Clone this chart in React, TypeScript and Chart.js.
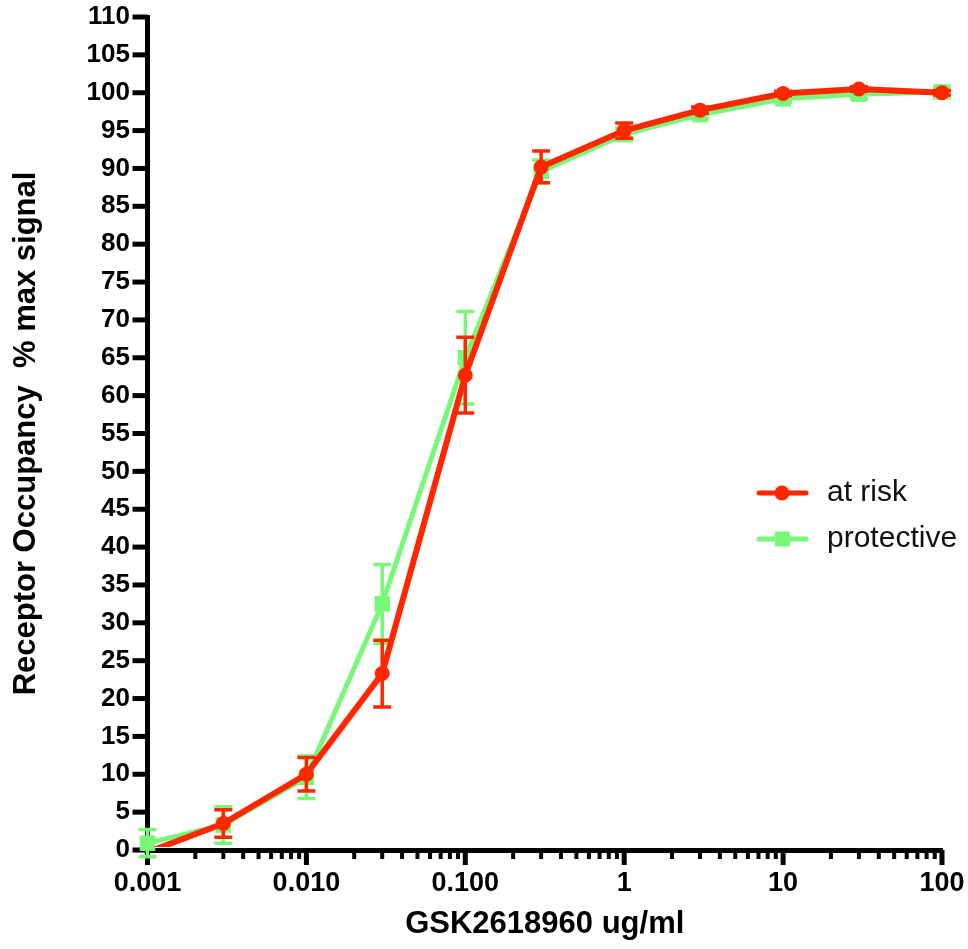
import React, { useEffect, useRef } from "react";
import { Chart, registerables } from "chart.js";

Chart.register(...registerables);

const X_VALUES = [0.001, 0.003, 0.01, 0.03, 0.1, 0.3, 1, 3, 10, 30, 100];
const AT_RISK = [-0.3, 3.5, 10.0, 23.3, 62.7, 90.2, 95.0, 97.7, 99.9, 100.5, 100.0];
const AT_RISK_ERR = [0, 1.8, 2.2, 4.4, 5.0, 2.1, 1.0, 0.4, 0.3, 0.3, 0.3];
const PROTECTIVE = [0.9, 3.3, 9.6, 32.5, 65.0, 89.6, 94.5, 97.1, 99.2, 99.8, 100.1];
const PROTECTIVE_ERR = [1.8, 2.4, 2.8, 5.2, 6.1, 1.5, 0.8, 0.5, 0.5, 0.6, 0.7];

const X_TICKS = [0.001, 0.01, 0.1, 1, 10, 100];
const X_TICK_LABELS = ["0.001", "0.010", "0.100", "1", "10", "100"];
const SERIES_LABELS = ["at risk", "protective"];
const ERRORS = [AT_RISK_ERR, PROTECTIVE_ERR];

const RED = "#FF2600";
const GREEN = "#78F778";
const FONT = "'Liberation Sans', Arial, sans-serif";

const tickPlugin = {
  id: "customTicks",
  beforeDatasetsDraw(chart: any) {
    const { ctx, scales } = chart;
    const xs = scales.x;
    const ys = scales.y;
    const area = chart.chartArea;
    ctx.save();
    ctx.strokeStyle = "#000";
    ctx.lineWidth = 5;
    for (let v = 0; v <= 110; v += 5) {
      const py = ys.getPixelForValue(v);
      ctx.beginPath();
      ctx.moveTo(area.left - 15, py);
      ctx.lineTo(area.left, py);
      ctx.stroke();
    }
    for (let e = -3; e <= 2; e++) {
      for (let m = 1; m <= 9; m++) {
        const v = m * Math.pow(10, e);
        if (v > 100.0001) continue;
        const px = xs.getPixelForValue(v);
        const major = m === 1;
        ctx.lineWidth = major ? 5 : 4;
        ctx.beginPath();
        ctx.moveTo(px, area.bottom);
        ctx.lineTo(px, area.bottom + (major ? 15 : 9));
        ctx.stroke();
      }
    }
    ctx.restore();
  },
};

const errorBarPlugin = {
  id: "errorBars",
  beforeDatasetDraw(chart: any, args: any) {
    const { ctx, scales } = chart;
    const idx = args.index;
    const ds = chart.data.datasets[idx];
    const errs = ERRORS[idx];
    if (!errs) return;
    ctx.save();
    ctx.strokeStyle = ds.borderColor;
    ctx.lineWidth = 3.5;
    ds.data.forEach((p: any, i: number) => {
      const err = errs[i];
      if (!err || p.y < 0) return;
      const px = scales.x.getPixelForValue(p.x);
      const top = scales.y.getPixelForValue(p.y + err);
      const bot = scales.y.getPixelForValue(p.y - err);
      ctx.beginPath();
      ctx.moveTo(px, top);
      ctx.lineTo(px, bot);
      ctx.moveTo(px - 9, top);
      ctx.lineTo(px + 9, top);
      ctx.moveTo(px - 9, bot);
      ctx.lineTo(px + 9, bot);
      ctx.stroke();
    });
    ctx.restore();
  },
};

const legendPlugin = {
  id: "customLegend",
  afterDraw(chart: any) {
    const { ctx } = chart;
    const rows = [493, 539];
    ctx.save();
    chart.data.datasets.forEach((ds: any, i: number) => {
      const y = rows[i];
      ctx.strokeStyle = ds.borderColor;
      ctx.fillStyle = ds.borderColor;
      ctx.lineWidth = 5;
      ctx.lineCap = "round";
      ctx.beginPath();
      ctx.moveTo(759, y);
      ctx.lineTo(806, y);
      ctx.stroke();
      if (ds.pointStyle === "rect") {
        ctx.fillRect(775, y - 7.5, 15, 15);
      } else {
        ctx.beginPath();
        ctx.arc(782, y, 7.5, 0, Math.PI * 2);
        ctx.fill();
      }
      ctx.fillStyle = "#111";
      ctx.font = `30px ${FONT}`;
      ctx.textBaseline = "middle";
      ctx.textAlign = "left";
      ctx.fillText(ds.label, 827, y);
    });
    ctx.restore();
  },
};

export default function App() {
  const ref = useRef<HTMLCanvasElement | null>(null);

  useEffect(() => {
    if (!ref.current) return;
    const chart = new Chart(ref.current, {
      type: "line",
      data: {
        datasets: [
          {
            label: SERIES_LABELS[0],
            data: X_VALUES.map((x, i) => ({ x, y: AT_RISK[i] })),
            borderColor: RED,
            backgroundColor: RED,
            borderWidth: 6,
            pointStyle: "circle",
            pointRadius: (c: any) => (c.raw && c.raw.y < 0 ? 0 : 7.5),
            pointHoverRadius: 7.5,
            pointBorderWidth: 0,
            tension: 0,
            clip: { left: 20, top: 20, right: 20, bottom: -3 } as any,
          },
          {
            label: SERIES_LABELS[1],
            data: X_VALUES.map((x, i) => ({ x, y: PROTECTIVE[i] })),
            borderColor: GREEN,
            backgroundColor: GREEN,
            borderWidth: 5,
            pointStyle: "rect",
            pointRadius: 11,
            pointHoverRadius: 11,
            pointBorderWidth: 0,
            tension: 0,
            clip: false as any,
          },
        ],
      },
      options: {
        animation: false,
        responsive: false,
        maintainAspectRatio: false,
        events: [],
        layout: { padding: { left: 0, right: 26, top: 17, bottom: 0 } },
        plugins: {
          legend: { display: false },
          tooltip: { enabled: false },
        },
        scales: {
          x: {
            type: "logarithmic",
            min: 0.001,
            max: 100,
            afterBuildTicks: (s: any) => {
              s.ticks = X_TICKS.map((v) => ({ value: v, major: true }));
            },
            afterFit: (s: any) => {
              s.height = 99;
              s.paddingLeft = 0;
              s.paddingRight = 0;
            },
            grid: { display: false, drawTicks: false },
            border: { display: true, color: "#000", width: 5 },
            ticks: {
              autoSkip: false,
              maxRotation: 0,
              padding: 17,
              color: "#000",
              font: { family: FONT, size: 27, weight: "bold" },
              callback: (_v: any, i: number) => X_TICK_LABELS[i],
            },
            title: {
              display: true,
              text: "GSK2618960 ug/ml",
              color: "#000",
              font: { family: FONT, size: 31, weight: "bold" },
              padding: { top: 0, bottom: 6 },
            },
          },
          y: {
            type: "linear",
            min: 0,
            max: 110,
            afterFit: (s: any) => {
              s.width = 147.5;
              s.paddingTop = 0;
              s.paddingBottom = 0;
            },
            grid: { display: false, drawTicks: false },
            border: { display: true, color: "#000", width: 5 },
            ticks: {
              stepSize: 5,
              autoSkip: false,
              padding: 17.5,
              color: "#000",
              font: { family: FONT, size: 26, weight: "bold" },
            },
            title: {
              display: true,
              text: "Receptor Occupancy  % max signal",
              color: "#000",
              font: { family: FONT, size: 31, weight: "bold" },
              padding: { top: 8, bottom: 0 },
            },
          },
        },
      },
      plugins: [tickPlugin, errorBarPlugin, legendPlugin],
    } as any);
    return () => chart.destroy();
  }, []);

  return (
    <div style={{ position: "absolute", left: 0, top: 0, width: 968, height: 949, background: "#fff" }}>
      <canvas ref={ref} width={968} height={949} style={{ display: "block" }} />
    </div>
  );
}
